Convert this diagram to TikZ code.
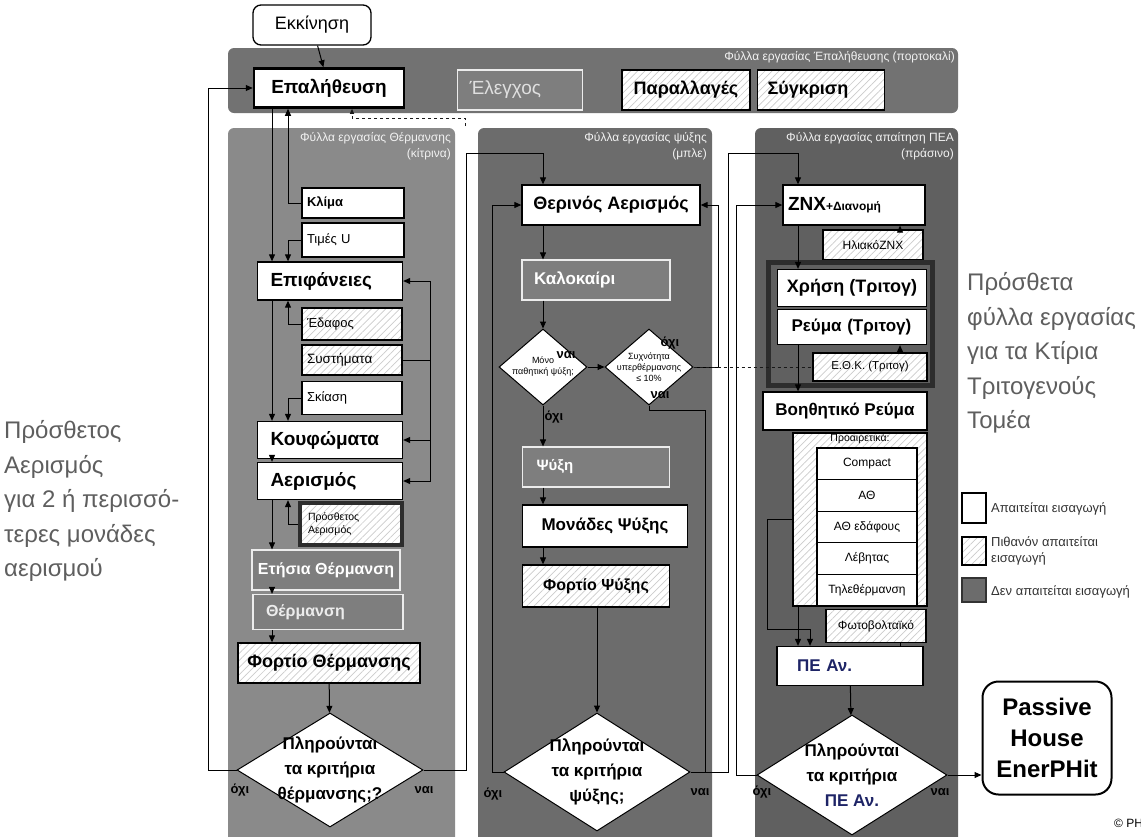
\documentclass[tikz,border=0pt]{standalone}
\usepackage{fontspec}
\setmainfont{Liberation Sans}
\usetikzlibrary{positioning, shapes.geometric, arrows.meta, patterns.meta}
\definecolor{bandgray}{HTML}{727272}
\definecolor{heatgray}{HTML}{8A8A8A}
\definecolor{coolgray}{HTML}{6C6C6C}
\definecolor{peagray}{HTML}{606060}
\definecolor{boxgray}{HTML}{7E7E7E}
\definecolor{sidetext}{HTML}{5E5E5E}
\definecolor{peablue}{HTML}{1E2466}
\newcommand{\fsz}[2]{\fontsize{#1}{#2}\selectfont}

\begin{document}
\begin{tikzpicture}[x=1pt, y=-1pt,
    box/.style={draw=black, line width=1.3pt, fill=white, inner xsep=6pt, inner ysep=1pt,
                font=\bfseries\fsz{18}{20}},
    hatch/.style={box, preaction={fill=white},
                  pattern={Lines[angle=45,distance=5pt,line width=0.7pt]}, pattern color=gray!40},
    greybox/.style={draw=gray!15, line width=1.2pt, fill=boxgray, text=white,
                    inner xsep=6pt, font=\bfseries\fsz{16}{18}},
    padl/.style 2 args={inner xsep=#1, text width=#2, align=left},
    dia/.style={diamond, draw=black, line width=1pt, fill=white, inner sep=0pt},
    arr/.style={-{Triangle[length=7pt,width=6pt]}, line width=1pt},
    line/.style={line width=1pt},
    sheetlbl/.style={font=\fsz{12}{16}, text=gray!10, align=right, inner sep=0pt},
    yn/.style={font=\bfseries\fsz{13}{14}, inner sep=0pt},
    sidenote/.style={font=\fsz{24}{34.5}, text=sidetext, align=left, inner sep=0pt, anchor=west},
    legtxt/.style={font=\fsz{13}{16}, text=black!80, align=left, anchor=west, inner sep=0pt},
]
\useasboundingbox (0,0) rectangle (1141,836);

% Sheets
\fill[bandgray, rounded corners=6pt] (228,48) rectangle (958,113);
\fill[heatgray, rounded corners=6pt] (228,128) rectangle (455,850);
\fill[coolgray, rounded corners=6pt] (478,128) rectangle (712,850);
\fill[peagray, rounded corners=6pt] (755,128) rectangle (958,850);

\node[sheetlbl, anchor=north east] (verifylbl) at (955,51) {Φύλλα εργασίας Έπαλήθευσης (πορτοκαλί)};
\node[sheetlbl, anchor=north east] (heatlbl) at (451,132) {Φύλλα εργασίας Θέρμανσης\\(κίτρινα)};
\node[sheetlbl, anchor=north east] (coollbl) at (707,132) {Φύλλα εργασίας ψύξης\\(μπλε)};
\node[sheetlbl, anchor=north east] (pealbl) at (954,132) {Φύλλα εργασίας απαίτηση ΠΕΑ\\(πράσινο)};

% Top row
\node[box, rounded corners=8pt, font=\fsz{18}{20}, minimum width=118pt, minimum height=40pt] (start) at (312,25) {Εκκίνηση};
\node[box, line width=2.5pt, font=\bfseries\fsz{19}{21}, minimum width=150pt, minimum height=39pt] (verify) at (329,88) {Επαλήθευση};
\node[greybox, text=gray!25, font=\fsz{19}{21}, padl={12pt}{101pt}, minimum height=40pt] (check) at (520,90) {Έλεγχος};
\node[hatch, minimum width=128pt, minimum height=40pt] (variants) at (686,90) {Παραλλαγές};
\node[hatch, padl={10pt}{107pt}, minimum height=40pt] (compare) at (821,90) {Σύγκριση};

% Heating
\node[box, font=\bfseries\fsz{13}{14}, padl={5pt}{92pt}, minimum height=30pt] (climate) at (353,203) {Κλίμα};
\node[box, font=\fsz{13}{14}, padl={5pt}{92pt}, minimum height=34pt] (uvalues) at (353,240) {Τιμές U};
\node[box, font=\bfseries\fsz{19}{21}, padl={13pt}{119pt}, minimum height=38pt] (surfaces) at (330,281) {Επιφάνειες};
\node[hatch, font=\fsz{13}{14}, padl={5pt}{90pt}, minimum height=32pt] (ground) at (352,324) {Έδαφος};
\node[hatch, font=\fsz{13.5}{14}, padl={5pt}{90pt}, minimum height=30pt] (systems) at (352,360) {Συστήματα};
\node[box, font=\fsz{13}{14}, padl={5pt}{90pt}, minimum height=33pt] (shading) at (352,398) {Σκίαση};
\node[box, font=\bfseries\fsz{19}{21}, padl={13pt}{119pt}, minimum height=37pt] (windows) at (330,440) {Κουφώματα};
\node[box, font=\bfseries\fsz{19}{21}, padl={13pt}{119pt}, minimum height=37pt] (vent) at (330,481) {Αερισμός};
\node[hatch, draw=gray!35!black, line width=4pt, font=\fsz{10.5}{13}, padl={8pt}{86pt}, minimum height=42pt] (addvent) at (351,524) {Πρόσθετος\\Αερισμός};
\node[greybox, minimum width=147pt, minimum height=40pt] (annual) at (326,570) {Ετήσια Θέρμανση};
\node[greybox, text=gray!15, padl={13pt}{124pt}, minimum height=35pt] (heating) at (328,612) {Θέρμανση};
\node[hatch, minimum width=182pt, minimum height=40pt] (heatload) at (329,663) {Φορτίο Θέρμανσης};
\node[dia, minimum width=186pt, minimum height=114pt,
      label={[align=center, font=\bfseries\fsz{17}{25}]center:Πληρούνται\\τα κριτήρια\\θέρμανσης;?}] (heatq) at (330,770) {};

% Cooling
\node[box, minimum width=178pt, minimum height=40pt] (summervent) at (611,205) {Θερινός Αερισμός};
\node[greybox, font=\bfseries\fsz{17}{19}, padl={12pt}{124pt}, minimum height=40pt] (summer) at (596,280) {Καλοκαίρι};
\node[dia, minimum width=88pt, minimum height=76pt,
      label={[align=center, font=\fsz{9}{11}]center:Μόνο\\παθητική ψύξη;}] (passq) at (543,367) {};
\node[dia, minimum width=88pt, minimum height=76pt,
      label={[align=center, font=\fsz{9}{11}]center:Συχνότητα\\υπερθέρμανσης\\≤ 10\%}] (overq) at (649,367) {};
\node[greybox, font=\bfseries\fsz{15}{17}, padl={14pt}{119pt}, minimum height=40pt] (cooling) at (596,467) {Ψύξη};
\node[box, font=\bfseries\fsz{17}{19}, minimum width=165pt, minimum height=42pt] (coolunits) at (605,526) {Μονάδες Ψύξης};
\node[hatch, font=\bfseries\fsz{16}{18}, minimum width=147pt, minimum height=42pt] (coolload) at (596,586) {Φορτίο Ψύξης};
\node[dia, minimum width=186pt, minimum height=118pt,
      label={[align=center, font=\bfseries\fsz{17}{25}]center:Πληρούνται\\τα κριτήρια\\ψύξης;}] (coolq) at (597,772) {};

% Primary energy
\node[box, padl={5pt}{132pt}, minimum height=40pt] (dhw) at (854,205) {{\fsz{19}{20}ZNX}{\fsz{12}{14}+Διανομή}};
\node[hatch, font=\fsz{12}{14}, minimum width=100pt, minimum height=30pt] (solar) at (873,245) {ΗλιακόΖΝΧ};
\node[draw=gray!35!black, line width=5pt, minimum width=164pt, minimum height=123pt] (tertgroup) at (850,323.5) {};
\node[box, minimum width=149pt, minimum height=37pt] (use) at (852,288) {Χρήση (Τριτογ)};
\node[box, font=\bfseries\fsz{17}{19}, padl={14pt}{121pt}, minimum height=35pt] (power) at (852,327) {Ρεύμα (Τριτογ)};
\node[hatch, font=\fsz{11.5}{13}, minimum width=114pt, minimum height=28pt] (ethk) at (870,367) {Ε.Θ.Κ. (Τριτογ)};
\node[box, font=\bfseries\fsz{17}{19}, minimum width=164pt, minimum height=38pt] (aux) at (845,411) {Βοηθητικό Ρεύμα};
\node[hatch, minimum width=134pt, minimum height=173pt,
      label={[anchor=north, font=\fsz{10.5}{12}, inner sep=1pt]north:Προαιρετικά:}] (optional) at (860,519.5) {};
\foreach \nm/\txt [count=\k from 0] in {compact/Compact, hp/ΑΘ, groundhp/ΑΘ εδάφους, boiler/Λέβητας, district/Τηλεθέρμανση}
  \node[box, font=\fsz{12}{14}, minimum width=100pt, minimum height=31.6pt] (\nm) at (867,463.8+31.6*\k) {\txt};
\node[hatch, font=\fsz{12}{14}, minimum width=100pt, minimum height=33pt] (pv) at (876,626) {Φωτοβολταϊκό};
\node[box, text=peablue, font=\bfseries\fsz{17}{19}, padl={20pt}{106pt}, minimum height=39pt] (per) at (850,666) {ΠΕ Αν.};
\node[dia, minimum width=190pt, minimum height=120pt,
      label={[align=center, font=\bfseries\fsz{17}{25}]center:Πληρούνται\\τα κριτήρια\\{\color{peablue}ΠΕ Αν.}}] (peaq) at (852,775) {};
\node[box, rounded corners=16pt, line width=2pt, font=\bfseries\fsz{24}{31}, align=center,
      minimum width=129pt, minimum height=113pt] (passive) at (1047,738) {Passive\\House\\EnerPHit};

% Side notes and legend
\node[sidenote] (ventnote) at (4,501) {Πρόσθετος\\Αερισμός\\για 2 ή περισσό-\\τερες μονάδες\\αερισμού};
\node[sidenote] (tertnote) at (967,353) {Πρόσθετα\\φύλλα εργασίας\\για τα Κτίρια\\Τριτογενούς\\Τομέα};
\node[box, line width=1.2pt, minimum width=24pt, minimum height=30pt] (legreq) at (974,508) {};
\node[hatch, line width=1.2pt, minimum width=24pt, minimum height=28pt] (legmay) at (974,551) {};
\node[draw=gray!40!black, fill=coolgray, line width=1.2pt, minimum width=24pt, minimum height=24pt] (legnot) at (974,590) {};
\node[legtxt] (legreqtxt) at (991,509) {Απαιτείται εισαγωγή};
\node[legtxt] (legmaytxt) at (991,551) {Πιθανόν απαιτείται\\εισαγωγή};
\node[legtxt] (legnottxt) at (991,592) {Δεν απαιτείται εισαγωγή};
\node[font=\fsz{12}{14}, anchor=west, inner sep=0pt] (copyr) at (1114,823) {© PH};

% Bus lines
\coordinate (xa) at (272,0);
\coordinate (xb) at (288,0);
\coordinate (xc) at (430,0);
\coordinate (xl) at (208,0);
\coordinate (xr) at (466,0);
\coordinate (xd) at (352,0);
\coordinate (xe) at (492,0);
\coordinate (xf) at (543,0);
\coordinate (xg) at (718,0);
\coordinate (xh) at (705,0);
\coordinate (xi) at (728,0);
\coordinate (xj) at (736,0);
\coordinate (xk) at (798,0);
\coordinate (xm) at (900,0);
\coordinate (xn) at (767,0);
\coordinate (xo) at (810,0);
\coordinate (ya) at (0,153);
\coordinate (yb) at (0,118);
\coordinate (yc) at (0,410);
\coordinate (yd) at (0,629);
\coordinate (dashend) at (465,126);

% Heating connectors
\draw[arr] (start) -- (verify);
\draw[arr] (verify.south -| xa) -- (surfaces.north -| xa);
\draw[arr] (climate.west) -| (verify.south -| xb);
\draw[arr] (uvalues.west) -| (surfaces.north -| xb);
\draw[arr] (ground.west) -| (surfaces.south -| xb);
\draw[arr] (systems.east) -| (xc |- surfaces.east) -- (surfaces.east);
\draw[arr] (xc |- systems.east) |- (windows.east);
\draw[arr] (xc |- windows.east) |- (vent.east);
\draw[arr] (shading.west) -| (windows.north -| xb);
\draw[arr] (surfaces.south -| xa) -- (windows.north -| xa);
\draw[arr] (windows.south -| xa) -- (vent.north -| xa);
\draw[arr] (vent.south -| xa) -- (annual.north -| xa);
\draw[arr] (addvent.west) -| (vent.south -| xb);
\draw[arr] (annual.south -| xa) -- (heating.north -| xa);
\draw[arr] (heating.south -| xa) -- (heatload.north -| xa);
\draw[arr] (heatload) -- (heatq);
\draw[arr] (heatq.west) -| (xl |- verify.west) -- (verify.west);
\draw[arr] (heatq.east) -| (xr |- ya) -| (summervent.north -| xf);
\draw[line, dashed, gray!20!black, -{Triangle[length=5pt,width=4pt]}] (dashend) |- (xd |- yb) -- (verify.south -| xd);
\node[yn] (heatno) at (240,790) {όχι};
\node[yn] (heatyes) at (424,790) {ναι};

% Cooling connectors
\draw[arr] (summervent.south -| xf) -- (summer.north -| xf);
\draw[arr] (summer.south -| xf) -- (passq.north);
\draw[arr] (passq.east) -- (overq.west);
\draw[arr] (passq.south) -- (cooling.north -| xf);
\draw[arr] (cooling.south -| xf) -- (coolunits.north -| xf);
\draw[arr] (coolunits.south -| xf) -- (coolload.north -| xf);
\draw[arr] (coolload.south -| coolq.north) -- (coolq.north);
\draw[arr] (overq.east) -| (xg |- summervent.east) -- (summervent.east);
\draw[line] (overq.south) |- (xh |- yc) -- (xh |- coolq.east) -- (coolq.east);
\draw[line, dashed, gray!20!black] (overq.east) -- (ethk.west);
\draw[arr] (coolq.west) -| (xe |- summervent.west) -- (summervent.west);
\draw[arr] (coolq.east) -| (xi |- ya) -| (dhw.north -| xk);
\node[yn] (passyes) at (566,355) {ναι};
\node[yn] (passno) at (554,417) {όχι};
\node[yn] (overno) at (670,343) {όχι};
\node[yn] (overyes) at (660,395) {ναι};
\node[yn] (coolno) at (493,794) {όχι};
\node[yn] (coolyes) at (700,792) {ναι};

% Primary energy connectors
\draw[arr] (dhw.south -| xk) -- (use.north -| xk);
\draw[arr] (solar.north -| xm) -- (dhw.south -| xm);
\draw[arr] (ethk.north -| xm) -- (power.south -| xm);
\draw[arr] (power.south -| xk) -- (aux.north -| xk);
\draw[arr] (optional.west) -| (xn |- yd) -| (per.north -| xo);
\draw[arr] (optional.south -| xk) -- (per.north -| xk);
\draw[line] (pv.south -| xm) -- (per.north -| xm);
\draw[arr] (per) -- (peaq);
\draw[arr] (peaq.west) -| (xj |- dhw.west) -- (dhw.west);
\draw[arr] (peaq.east) -- (passive.west |- peaq.east);
\node[yn] (peano) at (762,792) {όχι};
\node[yn] (peayes) at (940,792) {ναι};
\end{tikzpicture}
\end{document}
